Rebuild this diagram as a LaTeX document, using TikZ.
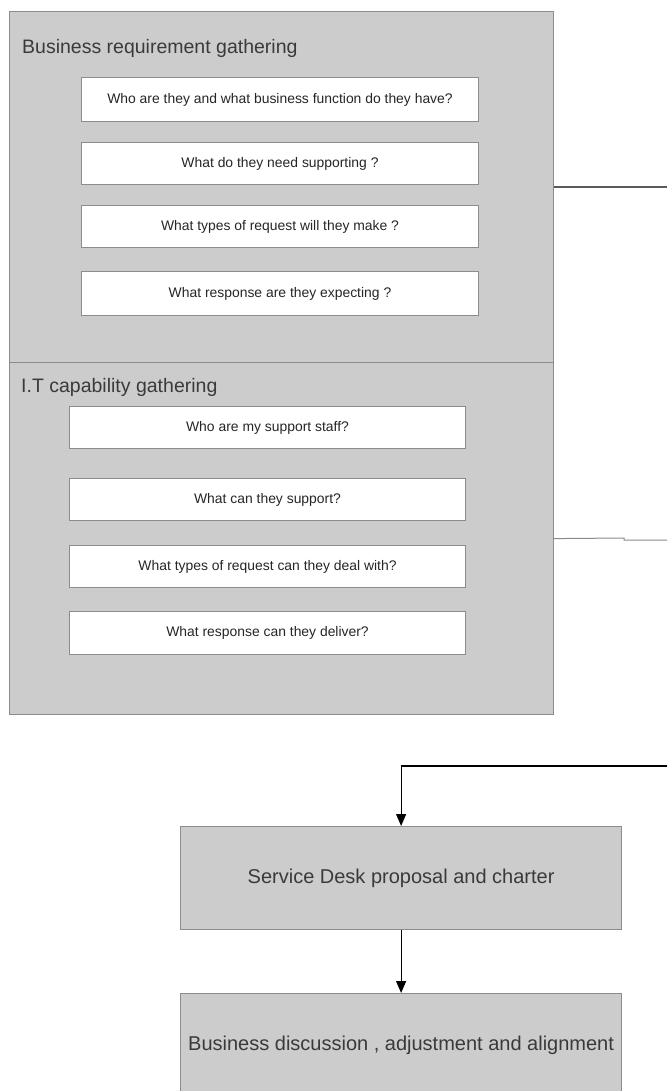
\documentclass[tikz,border=0pt]{standalone}
\usepackage{fontspec}
\setmainfont{Liberation Sans}
\usetikzlibrary{arrows.meta}
\definecolor{boxgray}{HTML}{CCCCCC}
\definecolor{edgegray}{HTML}{8C8C8C}
\definecolor{txtgray}{HTML}{3A3A3A}
\definecolor{linedark}{HTML}{5A5A5A}
\definecolor{linelight}{HTML}{8A8A8A}
\begin{document}
\begin{tikzpicture}[x=1pt,y=-1pt,
  panel/.style={draw=edgegray, fill=boxgray, line width=1.2pt, anchor=north west, inner sep=0pt},
  qbox/.style={draw=edgegray, fill=white, line width=1pt, anchor=north west, inner sep=0pt,
    font=\fontsize{13.9}{16}\selectfont, text=black!85},
  paneltitle/.style={anchor=base west, inner sep=0pt, font=\fontsize{19.5}{22}\selectfont, text=txtgray},
  stepbox/.style={panel, font=\fontsize{20}{24}\selectfont, text=txtgray},
  conn/.style={line width=1.2pt, draw=black},
  arr/.style={conn, -{Triangle[length=12pt,width=10pt]}}
]
\useasboundingbox (0,0) rectangle (667,1091);
\clip (0,0) rectangle (667,1091);

% outer panels
\node[panel, minimum width=544pt, minimum height=351pt] (biz) at (9,11) {};
\node[panel, minimum width=544pt, minimum height=352pt] (it) at (9,362) {};

\node[paneltitle] (biztitle) at (22,54) {Business requirement gathering};
\node[paneltitle] (ittitle) at (21,392) {I.T capability gathering};

% business questions
\node[qbox, minimum width=397pt, minimum height=44pt] (q1) at (81,77) {Who are they and what business function do they have?};
\node[qbox, minimum width=397pt, minimum height=42pt] (q2) at (81,142) {What do they need supporting ?};
\node[qbox, minimum width=397pt, minimum height=42pt] (q3) at (81,205) {What types of request will they make ?};
\node[qbox, minimum width=397pt, minimum height=44pt] (q4) at (81,271) {What response are they expecting ?};

% IT questions
\node[qbox, minimum width=396pt, minimum height=42pt] (r1) at (69,406) {Who are my support staff?};
\node[qbox, minimum width=396pt, minimum height=42pt] (r2) at (69,478) {What can they support?};
\node[qbox, minimum width=396pt, minimum height=42pt] (r3) at (69,545) {What types of request can they deal with?};
\node[qbox, minimum width=396pt, minimum height=43pt] (r4) at (69,611) {What response can they deliver?};

% lower steps
\node[stepbox, minimum width=441pt, minimum height=103pt] (svc) at (180,826) {Service Desk proposal and charter};
\node[stepbox, minimum width=441pt, minimum height=103pt] (align) at (180,993) {Business discussion , adjustment and alignment};

% connectors
\coordinate (e1) at (667,187);
\draw[line width=1.4pt, draw=linedark] (e1 -| biz.east) -- (e1);

\coordinate (k2) at (624,538);
\coordinate (e2) at (667,540);
\draw[line width=1pt, draw=linelight] (it.east) -- (k2) |- (e2);

\coordinate (e3) at (667,766);
\draw[arr] (e3) -| (svc.north);
\draw[arr] (svc.south) -- (align.north);
\end{tikzpicture}
\end{document}
